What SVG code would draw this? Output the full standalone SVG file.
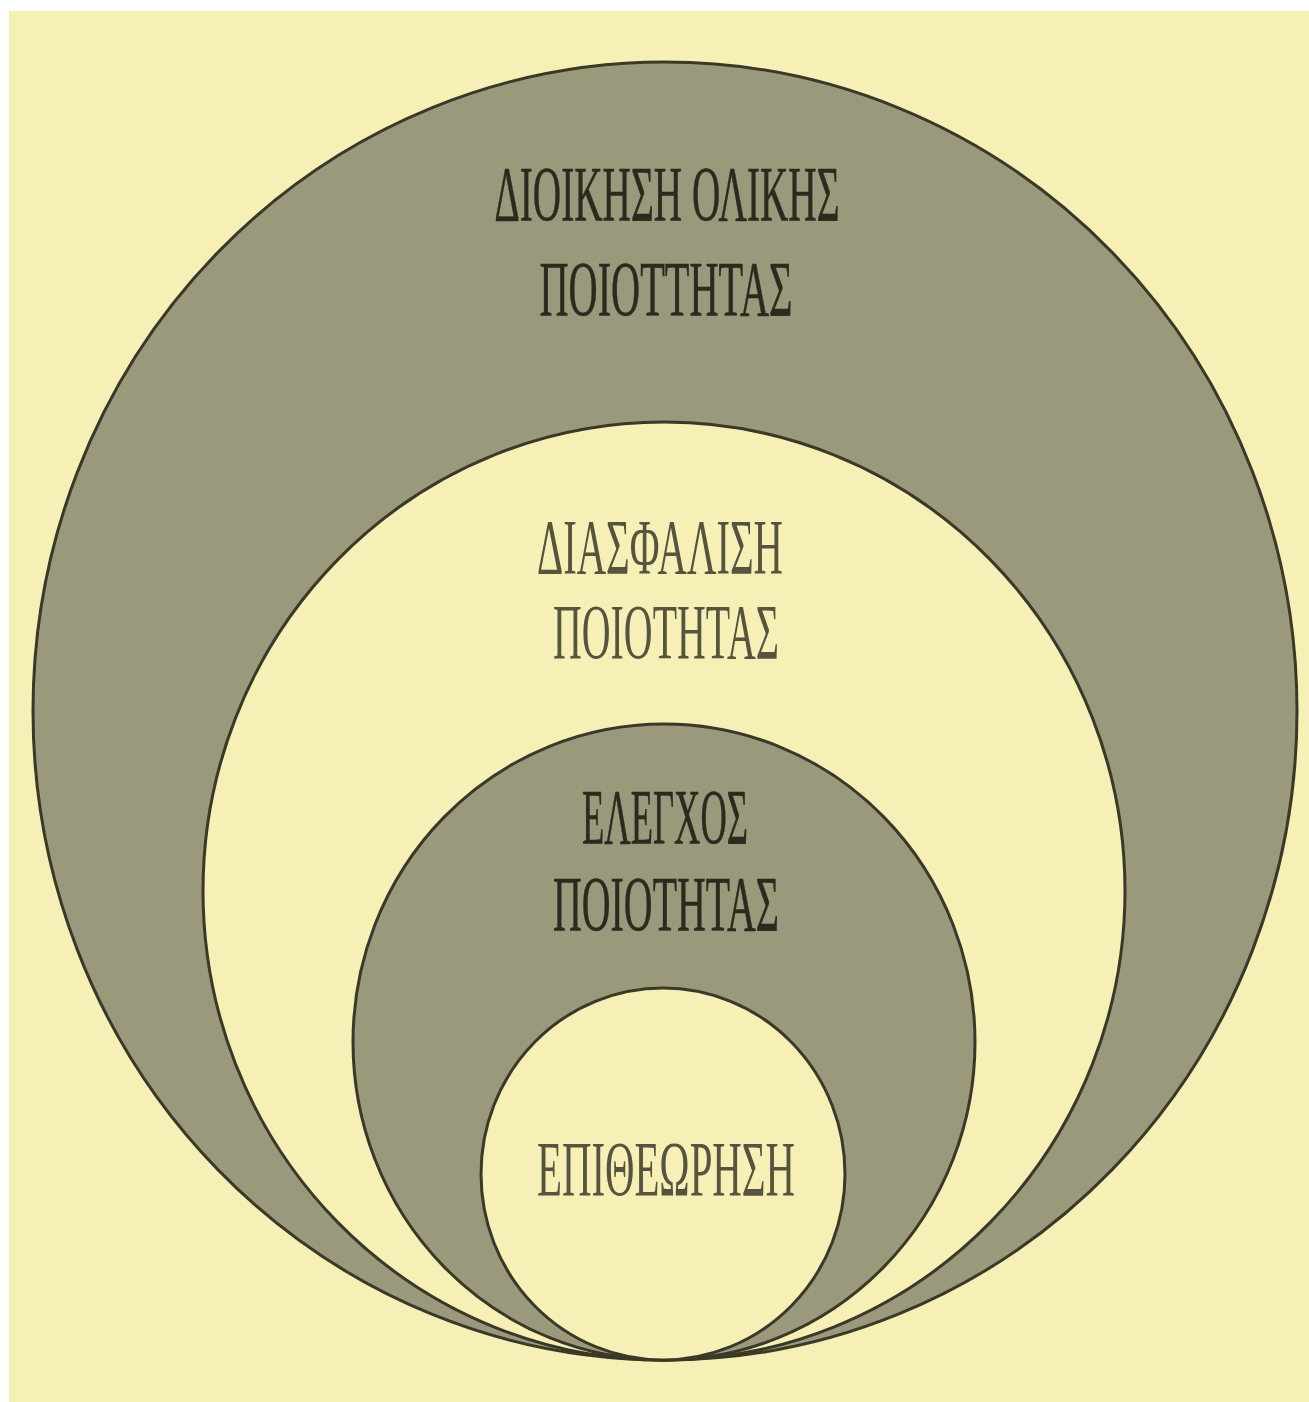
<svg xmlns="http://www.w3.org/2000/svg" width="1309" height="1402" viewBox="0 0 1309 1402">
<style>
.dark{fill:#9b997b;stroke:#3a3928;stroke-width:3}
.light{fill:#f7f0b6;stroke:#3a3928;stroke-width:3}
.lbl{font-family:"Liberation Serif","DejaVu Serif",serif;font-size:78px;text-anchor:middle}
.ondark{fill:#2b2a1e;stroke:#2b2a1e;stroke-width:0.6}
.onlight{fill:#55543f}
</style>
<rect x="0" y="0" width="1309" height="1402" fill="#ffffff"/>
<rect x="9" y="11" width="1300" height="1391" fill="#f7f0b6"/>
<g id="tqm">
<ellipse class="dark" cx="665" cy="711" rx="632" ry="649"/>
<text class="lbl ondark" x="667" y="220" textLength="345" lengthAdjust="spacingAndGlyphs">ΔΙΟΙΚΗΣΗ ΟΛΙΚΗΣ</text>
<text class="lbl ondark" x="666" y="315" textLength="253" lengthAdjust="spacingAndGlyphs">ΠΟΙΟΤΤΗΤΑΣ</text>
</g>
<g id="qa">
<ellipse class="light" cx="664" cy="891" rx="461" ry="469"/>
<text class="lbl onlight" x="660" y="573" textLength="246" lengthAdjust="spacingAndGlyphs">ΔΙΑΣΦΑΛΙΣΗ</text>
<text class="lbl onlight" x="666" y="658" textLength="226" lengthAdjust="spacingAndGlyphs">ΠΟΙΟΤΗΤΑΣ</text>
</g>
<g id="qc">
<ellipse class="dark" cx="664" cy="1042" rx="311" ry="318"/>
<text class="lbl ondark" x="665" y="843" textLength="166" lengthAdjust="spacingAndGlyphs">ΕΛΕΓΧΟΣ</text>
<text class="lbl ondark" x="666" y="930" textLength="226" lengthAdjust="spacingAndGlyphs">ΠΟΙΟΤΗΤΑΣ</text>
</g>
<g id="inspection">
<ellipse class="light" cx="663" cy="1174" rx="182" ry="186"/>
<text class="lbl onlight" x="666" y="1195" textLength="258" lengthAdjust="spacingAndGlyphs">ΕΠΙΘΕΩΡΗΣΗ</text>
</g>
<g id="connectors"/>
</svg>
